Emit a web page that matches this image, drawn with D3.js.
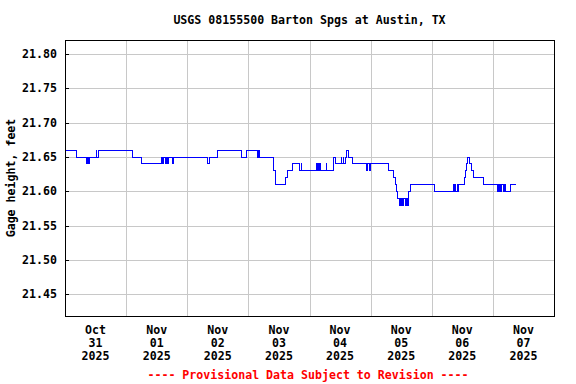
<!DOCTYPE html>
<html><head><meta charset="utf-8">
<script src="https://cdn.jsdelivr.net/npm/d3@7/dist/d3.min.js"></script>
<style>body{margin:0;background:#fff}svg{display:block}text{font-family:"DejaVu Sans Mono",monospace;font-weight:bold;font-size:11.6px}</style>
</head><body>
<script>
const titleText = "USGS 08155500 Barton Spgs at Austin, TX";
const yAxisTitle = "Gage height, feet";
const footerText = "---- Provisional Data Subject to Revision ----";
const startDate = new Date(2025, 9, 31, 0, 0);
// hours since 2025-10-31 00:00 at which gage height changes
const hoursFromStart = [0,4.5,8.5,8.75,9.25,9.75,12.25,12.5,13.0,26.5,30.0,37.75,38.25,38.75,39.5,40.0,40.25,40.5,42.25,42.5,56.0,56.75,59.75,69.25,71.25,75.75,76.0,76.25,81.75,82.5,86.5,87.5,89.25,92.25,92.75,93.0,98.75,99.0,99.25,99.5,99.75,100.25,102.5,102.75,105.5,106.25,108.5,108.75,109.25,109.5,110.0,110.5,111.5,113.0,118.5,118.75,119.75,120.0,127.0,129.0,129.75,130.25,130.5,131.25,131.5,131.75,132.0,132.25,132.5,132.75,133.0,133.5,133.75,134.0,134.25,134.5,134.75,135.5,145.25,152.5,152.75,153.0,153.25,154.0,154.25,154.5,157.0,157.25,157.5,158.0,158.75,159.5,160.5,164.25,169.75,170.0,170.25,170.5,170.75,171.0,171.25,171.5,172.25,172.5,173.0,175.0,177.25];
const gageHeight = [21.66,21.65,21.64,21.65,21.64,21.65,21.66,21.65,21.66,21.65,21.64,21.65,21.64,21.65,21.64,21.65,21.64,21.65,21.64,21.65,21.64,21.65,21.66,21.65,21.66,21.65,21.66,21.65,21.63,21.61,21.62,21.63,21.64,21.63,21.64,21.63,21.64,21.63,21.64,21.63,21.64,21.63,21.64,21.63,21.65,21.64,21.65,21.64,21.65,21.64,21.65,21.66,21.65,21.64,21.63,21.64,21.63,21.64,21.63,21.62,21.61,21.60,21.59,21.58,21.59,21.58,21.59,21.58,21.59,21.58,21.59,21.58,21.59,21.58,21.59,21.58,21.60,21.61,21.60,21.61,21.60,21.61,21.60,21.61,21.60,21.61,21.62,21.63,21.64,21.65,21.64,21.63,21.62,21.61,21.60,21.61,21.60,21.61,21.60,21.61,21.60,21.61,21.60,21.61,21.60,21.61,21.61];
const yTicks = [21.45,21.50,21.55,21.60,21.65,21.70,21.75,21.80];
const dayLabels = [["Oct","31","2025"],["Nov","01","2025"],["Nov","02","2025"],["Nov","03","2025"],["Nov","04","2025"],["Nov","05","2025"],["Nov","06","2025"],["Nov","07","2025"]];

const W = 576, H = 384;
const L = 65, R = 554, T = 40, B = 316;
const svg = d3.select("body").append("svg").attr("width", W).attr("height", H);
const hour = 3600e3;
const x = d3.scaleTime().domain([startDate, new Date(startDate.getTime() + 192*hour)]).range([L, R]);
const y = d3.scaleLinear().domain([21.60, 21.65]).range([191.3, 157.0]);

const data = hoursFromStart.map((h, i) => ({t: new Date(startDate.getTime() + h*hour), v: gageHeight[i]}));

// grid
const g = svg.append("g").attr("shape-rendering", "crispEdges");
g.selectAll(".hg").data(yTicks).join("line")
  .attr("x1", L).attr("x2", R).attr("y1", d => Math.round(y(d)) + 0.5).attr("y2", d => Math.round(y(d)) + 0.5)
  .attr("stroke", "#c8c8c8");
const dayBounds = d3.range(1, 8).map(i => new Date(startDate.getTime() + i*24*hour));
g.selectAll(".vg").data(dayBounds).join("line")
  .attr("y1", T).attr("y2", B).attr("x1", d => Math.round(x(d)) + 0.5).attr("x2", d => Math.round(x(d)) + 0.5)
  .attr("stroke", "#c8c8c8");
// inner ticks on left
g.selectAll(".tk").data(yTicks).join("line")
  .attr("x1", L).attr("x2", L + 4).attr("y1", d => Math.round(y(d)) + 0.5).attr("y2", d => Math.round(y(d)) + 0.5)
  .attr("stroke", "#000");

// data line
svg.append("path").datum(data)
  .attr("d", d3.line().x(d => x(d.t)).y(d => y(d.v)).curve(d3.curveStepAfter))
  .attr("fill", "none").attr("stroke", "#0000ff").attr("stroke-width", 1).attr("shape-rendering", "crispEdges");

// frame
svg.append("rect").attr("x", L + 0.5).attr("y", T + 0.5).attr("width", R - L).attr("height", B - T)
  .attr("fill", "none").attr("stroke", "#000").attr("shape-rendering", "crispEdges");

// y labels
svg.selectAll(".yl").data(yTicks).join("text")
  .attr("x", 57).attr("y", d => y(d) + 4).attr("text-anchor", "end").text(d => d.toFixed(2));
svg.append("text").attr("transform", `translate(15,${(T + B) / 2}) rotate(-90)`)
  .attr("text-anchor", "middle").text(yAxisTitle);

// x labels
dayLabels.forEach((lines, i) => {
  const cx = x(new Date(startDate.getTime() + (i*24 + 12)*hour));
  lines.forEach((s, j) => {
    svg.append("text").attr("x", cx).attr("y", 334 + j*12.8).attr("text-anchor", "middle").text(s);
  });
});

svg.append("text").attr("x", (L + R) / 2).attr("y", 24).attr("text-anchor", "middle").text(titleText);
svg.append("text").attr("x", 308).attr("y", 379).attr("text-anchor", "middle").attr("fill", "#ff0000").text(footerText);
</script>
</body></html>
